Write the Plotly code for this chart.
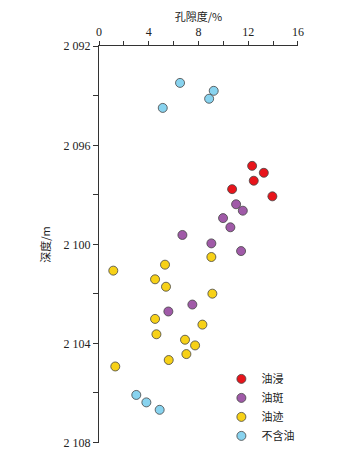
import plotly.graph_objects as go

# porosity (%) and depth (m) per oil-show class
jin_x = [12.32, 13.26, 12.45, 10.71, 13.95]
jin_y = [2096.83, 2097.11, 2097.43, 2097.77, 2098.06]

ban_x = [11.03, 11.57, 9.98, 10.57, 6.71, 9.04, 11.43, 7.51, 5.58]
ban_y = [2098.38, 2098.64, 2098.94, 2099.31, 2099.62, 2099.96, 2100.27, 2102.43, 2102.71]

ji_x = [9.04, 5.31, 1.15, 4.51, 5.39, 9.12, 4.51, 8.32, 4.62, 6.92, 7.73, 7.03, 5.61, 1.31]
ji_y = [2100.51, 2100.82, 2101.06, 2101.41, 2101.71, 2101.99, 2103.01, 2103.24, 2103.63,
        2103.85, 2104.08, 2104.43, 2104.67, 2104.93]

bu_x = [6.52, 9.23, 8.86, 5.13, 3.00, 3.81, 4.88]
bu_y = [2093.48, 2093.80, 2094.12, 2094.49, 2106.08, 2106.38, 2106.68]

names = ["油浸", "油斑", "油迹", "不含油"]
colors = ["#e8141b", "#a05aa8", "#f7d117", "#88d3ef"]

x_ticks = [0, 2, 4, 6, 8, 10, 12, 14, 16]
x_text = ["0", "", "4", "", "8", "", "12", "", "16"]
y_ticks = [2092, 2094, 2096, 2098, 2100, 2102, 2104, 2106, 2108]
y_text = ["2 092", "", "2 096", "", "2 100", "", "2 104", "", "2 108"]

fig = go.Figure()
for xs, ys, nm, c in zip([jin_x, ban_x, ji_x, bu_x], [jin_y, ban_y, ji_y, bu_y], names, colors):
    fig.add_trace(go.Scatter(
        x=xs, y=ys, mode="markers", name=nm,
        marker=dict(size=9, color=c, line=dict(color="#444444", width=0.8)),
        cliponaxis=False,
    ))

serif = "Liberation Serif"
cjk = "Noto Sans CJK SC"

fig.update_layout(
    width=353, height=442,
    margin=dict(l=91, r=63, t=38, b=7, autoexpand=False),
    plot_bgcolor="white", paper_bgcolor="white",
    showlegend=True,
    legend=dict(x=0.615, y=0.198, xanchor="left", yanchor="top",
                font=dict(family=cjk, size=11, color="#222"),
                bgcolor="rgba(0,0,0,0)", tracegroupgap=0, itemwidth=30),
    font=dict(family=serif, size=11, color="#222"),
)
fig.update_xaxes(
    range=[0, 16.01], side="top", showgrid=False, zeroline=False, automargin=False,
    showline=True, linecolor="#333", linewidth=1,
    tickmode="array", tickvals=x_ticks, ticktext=x_text,
    ticks="outside", ticklen=4, tickcolor="#333",
    tickfont=dict(family=serif, size=12),
    title=dict(text="孔隙度/%", font=dict(family=cjk, size=11), standoff=6),
)
fig.update_yaxes(
    range=[2108.02, 2091.99], showgrid=False, zeroline=False, automargin=False,
    showline=True, linecolor="#333", linewidth=1,
    tickmode="array", tickvals=y_ticks, ticktext=y_text,
    ticks="outside", ticklen=5, tickcolor="#333",
    tickfont=dict(family=serif, size=12),
    title=dict(text="深度/m", font=dict(family=cjk, size=11), standoff=10),
)

fig.write_html("out.html")
